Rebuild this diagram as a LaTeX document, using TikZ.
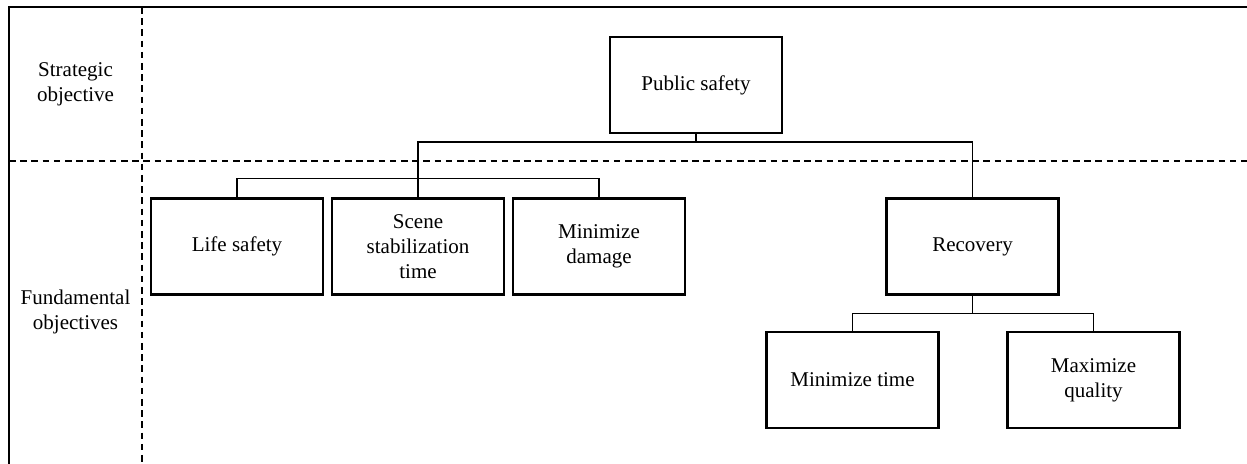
\documentclass[tikz,border=0pt]{standalone}
\usepackage{fontspec}
\setmainfont{Liberation Serif}
\usepackage{xcolor}
\usepackage{tikz}
\usetikzlibrary{positioning, calc}

\begin{document}
\begin{tikzpicture}[
    x=0.5pt, y=-0.5pt,
    node distance=3.4pt,
    objbox/.style={
        rectangle, draw=black, line width=1.1pt,
        minimum width=86pt, minimum height=48pt,
        inner sep=2pt, align=center,
        font=\fontsize{10.5}{12.5}\selectfont
    },
    rowlabel/.style={
        align=center, inner sep=0pt,
        font=\fontsize{10.5}{12.5}\selectfont
    },
    link/.style={line width=0.7pt, color=black},
    frame/.style={line width=1.1pt, color=black},
    divider/.style={line width=0.7pt, dash pattern=on 3.3pt off 2.3pt}
]

\useasboundingbox (0,0) rectangle (1247,464);

\draw[frame] (9,464) -- (9,7) -- (1247,7);
\draw[divider] (142,7) -- (142,464);
\draw[divider] (9,161) -- (1247,161);

\node[rowlabel] (strat) at (75.5,84) {Strategic\\objective};
\node[rowlabel] (fund) at (75.5,312) {Fundamental\\objectives};

\node[objbox] (ps) at (696,85) {Public safety};

\node[objbox] (ls) at (237,246.5) {Life safety};
\node[objbox, right=of ls] (sc) {Scene\\stabilization\\time};
\node[objbox, right=of sc] (md) {Minimize\\damage};

\node[objbox] (rec) at (972.5,246.5) {Recovery};
\node[objbox] (mt) at (852.5,380) {Minimize time};
\node[objbox] (mq) at (1093.5,380) {Maximize\\quality};

\draw[link] (ps.south) -- ++(0,8) -| (sc.north);
\draw[link] (ps.south) -- ++(0,8) -| (rec.north);
\draw[link] (ls.north) -- ++(0,-19) -| (md.north);
\draw[link] (rec.south) -- ++(0,18) -| (mt.north);
\draw[link] (rec.south) -- ++(0,18) -| (mq.north);

\end{tikzpicture}
\end{document}
